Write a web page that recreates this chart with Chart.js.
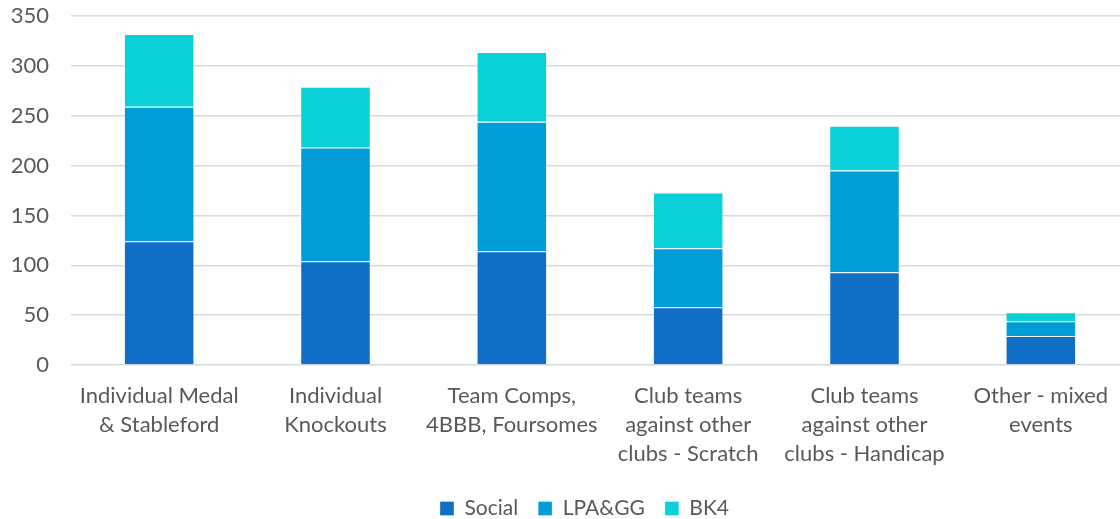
<!DOCTYPE html>
<html>
<head>
<meta charset="utf-8">
<script src="https://cdn.jsdelivr.net/npm/chart.js@4/dist/chart.umd.min.js"></script>
<style>
  html, body { margin: 0; padding: 0; background: #fff; overflow: hidden; }
  #wrap { width: 1129px; height: 519px; }
</style>
</head>
<body>
<div id="wrap"><canvas id="chart" width="1129" height="519"></canvas></div>
<script>
/* data */
const categories = [
  ["Individual Medal", "& Stableford"],
  ["Individual", "Knockouts"],
  ["Team Comps,", "4BBB, Foursomes"],
  ["Club teams", "against other", "clubs - Scratch"],
  ["Club teams", "against other", "clubs - Handicap"],
  ["Other - mixed", "events"]
];
const social = [124, 104, 114, 58, 93, 29];
const lpaGG = [135, 114, 130, 59, 102, 15];
const bk4 = [73, 61, 70, 56, 45, 9];

const FONT = "Lato, 'Open Sans', sans-serif";
const GREY = "#595959";

function makeDataset(label, data, color) {
  return {
    label,
    data,
    backgroundColor: color,
    borderColor: "rgba(255,255,255,0.35)",
    borderWidth: 1,
    barPercentage: 0.8,
    categoryPercentage: 0.5
  };
}

// nudge legend to sit where excel puts it
const legendShift = {
  id: "legendShift",
  afterLayout(chart) {
    chart.legend.left += 20;
    chart.legend.right += 20;
  }
};

new Chart(document.getElementById("chart"), {
  type: "bar",
  data: {
    labels: categories,
    datasets: [
      makeDataset("Social", social, "#0F6FC6"),
      makeDataset("LPA&GG", lpaGG, "#009DD9"),
      makeDataset("BK4", bk4, "#0BD0D9")
    ]
  },
  plugins: [legendShift],
  options: {
    responsive: false,
    animation: false,
    layout: { padding: { left: 0, right: 0, top: 16, bottom: -10 } },
    plugins: {
      tooltip: { enabled: false },
      legend: {
        position: "bottom",
        labels: {
          font: { family: FONT, size: 21 },
          color: GREY,
          boxWidth: 14,
          boxHeight: 14,
          padding: 20
        }
      }
    },
    scales: {
      x: {
        stacked: true,
        grid: { display: false, drawTicks: false },
        border: { display: false },
        ticks: {
          font: { family: FONT, size: 22, lineHeight: 1.32 },
          color: GREY,
          padding: 16,
          maxRotation: 0,
          autoSkip: false
        },
        afterFit: s => { s.height = 113; }
      },
      y: {
        stacked: true,
        min: 0,
        max: 350,
        grid: { color: "#d9d9d9", lineWidth: 1.5, drawTicks: false },
        border: { display: false },
        ticks: {
          stepSize: 50,
          font: { family: FONT, size: 22 },
          color: GREY,
          padding: 22
        },
        afterFit: s => {
          s.width = 71;
          s.paddingTop = 0;
          s.paddingBottom = 0;
        }
      }
    }
  }
});
</script>
</body>
</html>
